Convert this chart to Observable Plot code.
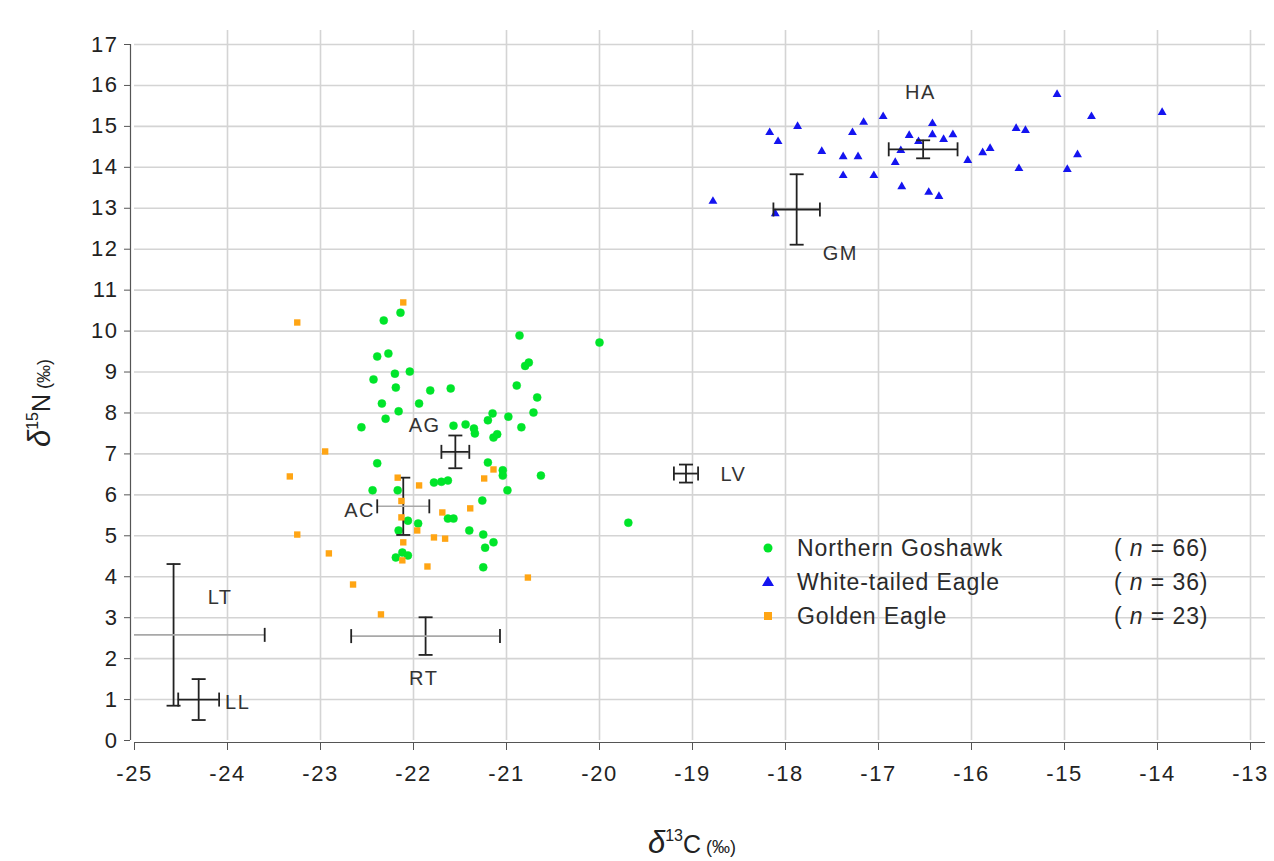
<!DOCTYPE html>
<html>
<head>
<meta charset="utf-8">
<script src="https://cdn.jsdelivr.net/npm/d3@7"></script>
<script src="https://cdn.jsdelivr.net/npm/@observablehq/plot@0.6"></script>
<style>
  body { margin: 0; background: #fff; font-family: "Liberation Sans", Arial, sans-serif; }
  #wrap { position: relative; width: 1274px; height: 861px; }
  #legend { position: absolute; left: 758px; top: 531px; font-size: 23px; letter-spacing: 0.9px; color: #2a2a2a; }
  #legend .row { position: relative; height: 34px; line-height: 34px; white-space: nowrap; }
  #legend .sym { position: absolute; left: 0; top: 0; width: 20px; height: 34px; }
  #legend .name { position: absolute; left: 39px; }
  #legend .n { position: absolute; left: 356px; }
</style>
</head>
<body>
<div id="wrap"></div>
<script>
// ---------- data ----------
const goshawkX = [-22.14,-22.32,-22.39,-22.27,-22.04,-22.20,-22.43,-22.19,-21.82,-21.60,-22.34,-21.94,-22.16,-22.30,-22.56,-21.57,-21.44,-21.35,-21.34,-21.20,-21.15,-20.98,-20.71,-20.67,-20.89,-20.76,-20.80,-20.86,-20.84,-21.14,-21.10,-21.20,-21.04,-21.04,-20.63,-22.39,-21.63,-21.70,-21.78,-20.99,-21.26,-21.63,-21.57,-21.40,-21.25,-21.14,-21.23,-21.25,-22.44,-22.17,-21.95,-22.16,-22.12,-22.19,-22.06,-20.00,-19.69,-22.06];
const goshawkY = [10.45,10.26,9.38,9.45,9.01,8.96,8.82,8.62,8.55,8.60,8.23,8.23,8.04,7.86,7.65,7.69,7.72,7.62,7.50,7.82,7.99,7.91,8.01,8.38,8.67,9.23,9.15,9.89,7.65,7.40,7.48,6.79,6.60,6.47,6.47,6.77,6.35,6.32,6.30,6.11,5.86,5.42,5.42,5.13,5.03,4.84,4.71,4.23,6.11,6.11,5.30,5.13,4.59,4.47,4.52,9.72,5.32,5.37];

const eagleWX = [-18.17,-18.08,-17.87,-17.61,-17.38,-17.22,-17.38,-17.05,-17.28,-17.16,-16.95,-16.82,-16.76,-16.75,-16.67,-16.57,-16.42,-16.42,-16.30,-16.20,-16.46,-16.35,-16.04,-15.88,-15.80,-15.52,-15.49,-18.11,-18.78,-15.08,-14.71,-15.42,-14.86,-14.97,-13.95];
const eagleWY = [14.85,14.63,15.00,14.39,14.26,14.26,13.80,13.80,14.85,15.10,15.24,14.12,14.41,13.53,14.78,14.63,15.07,14.80,14.68,14.80,13.39,13.29,14.17,14.36,14.46,14.95,13.97,12.87,13.17,15.78,15.24,14.90,14.31,13.95,15.34];

const goldenX = [-22.11,-23.25,-22.95,-23.33,-23.25,-22.91,-22.65,-22.35,-22.17,-21.94,-22.13,-22.13,-21.96,-21.78,-21.66,-22.11,-22.12,-21.85,-20.77,-21.14,-21.24,-21.39,-21.69];
const goldenY = [10.70,10.21,7.06,6.45,5.03,4.57,3.81,3.08,6.42,6.23,5.85,5.45,5.13,4.96,4.93,4.84,4.40,4.25,3.98,6.62,6.40,5.67,5.57];

// reference error bars (mean ± SD)
const ebLabel = ["HA","GM","AG","AC","LV","LT","LL","RT"];
const ebX     = [-16.52,-17.88,-21.55,-22.11,-19.07,-24.58,-24.31,-21.87];
const ebXerr  = [0.37,0.25,0.15,0.28,0.13,0.98,0.22,0.80];
const ebY     = [14.44,12.97,7.05,5.72,6.52,2.58,1.00,2.55];
const ebYerr  = [0.22,0.86,0.40,0.70,0.22,1.73,0.50,0.46];

// label anchor points (data units)
const labText = ["HA","GM","AG","AC","LV","LT","LL","RT"];
const labX = [-16.55,-17.41,-21.88,-22.58,-18.56,-24.08,-23.89,-21.89];
const labY = [15.83,11.90,7.69,5.62,6.50,3.49,0.93,1.51];

const xTicks = d3.range(-25, -12, 1);
const yTicks = d3.range(0, 18, 1);

const legendNames = ["Northern Goshawk","White-tailed Eagle","Golden Eagle"];
const legendN = [66, 36, 23];

// ---------- build tables ----------
const goshawk = goshawkX.map((x,i)=>({x, y: goshawkY[i]}));
const eagleW = eagleWX.map((x,i)=>({x, y: eagleWY[i]}));
const golden = goldenX.map((x,i)=>({x, y: goldenY[i]}));
const bars = ebLabel.map((l,i)=>({label:l, x:ebX[i], xe:ebXerr[i], y:ebY[i], ye:ebYerr[i]}));
const labels = labText.map((t,i)=>({t, x:labX[i], y:labY[i]}));
const greyH = new Set(["AC","LT","RT"]);

const capW = 7;
const hCap = {draw(ctx){ ctx.moveTo(-capW,0); ctx.lineTo(capW,0); }};
const vCap = {draw(ctx){ ctx.moveTo(0,-capW); ctx.lineTo(0,capW); }};

const vCaps = bars.flatMap(b=>[{x:b.x, y:b.y-b.ye},{x:b.x, y:b.y+b.ye}]);
const hCaps = bars.flatMap(b=>[{x:b.x-b.xe, y:b.y},{x:b.x+b.xe, y:b.y}]);

const gridColor = "#d4d4d4";
const ink = "#222";

const chart = Plot.plot({
  width: 1274,
  height: 861,
  marginLeft: 134,
  marginRight: 9,
  marginTop: 30,
  marginBottom: 121,
  x: {domain: [-25, -13], insetRight: 15},
  y: {domain: [0, 17], insetTop: 14},
  style: {fontFamily: "'Liberation Sans', Arial, sans-serif", fontSize: "22px", color: ink, background: "#fff"},
  marks: [
    Plot.gridX({ticks: xTicks.filter(t=>t>-25), stroke: gridColor, strokeOpacity: 1, strokeWidth: 1.6}),
    Plot.gridY({ticks: yTicks.filter(t=>t>0), stroke: gridColor, strokeOpacity: 1, strokeWidth: 1.6}),
    Plot.axisX({ticks: xTicks, tickFormat: d=>String(d), tickSize: 8, tickPadding: 15, dy: 2, label: null, stroke: "#555", fontSize: 22}),
    Plot.axisY({ticks: yTicks, tickFormat: d=>String(d), tickSize: 6, tickPadding: 6, dx: -4, label: null, stroke: "#555", fontSize: 22}),
    Plot.ruleY([0], {dy: 2, stroke: "#555", strokeWidth: 1.2}),
    Plot.ruleX([-25], {dx: -4, y1: 0, y2: 17, stroke: "#555", strokeWidth: 1.2}),
    Plot.dot(goshawk, {x:"x", y:"y", r: 4, symbol: "circle", fill: "#00e52a", stroke: "#00e52a", strokeWidth: 0.5}),
    Plot.dot(eagleW, {x:"x", y:"y", r: 3.3, symbol: "triangle", fill: "#1414f0"}),
    // error bars
    Plot.ruleX(bars, {x:"x", y1: d=>d.y-d.ye, y2: d=>d.y+d.ye, stroke: ink, strokeWidth: 1.8}),
    Plot.ruleY(bars, {y:"y", x1: d=>d.x-d.xe, x2: d=>d.x+d.xe, stroke: d=>greyH.has(d.label)?"#a8a8a8":ink, strokeWidth: d=>greyH.has(d.label)?1.6:1.8, clip: true}),
    Plot.dot(vCaps, {x:"x", y:"y", symbol: hCap, r: 1, stroke: ink, strokeWidth: 1.8, fill: "none"}),
    Plot.dot(hCaps, {x:"x", y:"y", symbol: vCap, r: 1, stroke: ink, strokeWidth: 1.8, fill: "none", clip: true}),
    Plot.dot(golden, {x:"x", y:"y", r: 3.6, symbol: "square", fill: "#ffa514"}),
    Plot.text(labels, {x:"x", y:"y", text:"t", fontSize: 20, fill: "#333"})
  ]
});

const svg = d3.select(chart);
// wider tick and label lettering as in the reference
svg.selectAll("g[aria-label='x-axis tick label'] text, g[aria-label='y-axis tick label'] text").style("letter-spacing", "1.5px");
svg.selectAll("g[aria-label='text'] text").style("letter-spacing", "1.5px");

// axis titles
const yt = svg.append("text")
  .attr("transform", "translate(50,403) rotate(-90)")
  .attr("text-anchor", "middle")
  .attr("fill", ink)
  .style("font-family", "'Liberation Sans', Arial, sans-serif");
yt.append("tspan").text("δ").style("font-style","italic").style("font-size","31px");
yt.append("tspan").text("15").style("font-size","16px").attr("dy", -12);
yt.append("tspan").text("N").style("font-size","25px").attr("dy", 12);
yt.append("tspan").text(" (‰)").style("font-size","18px");

const xt = svg.append("text")
  .attr("transform", "translate(692,853)")
  .attr("text-anchor", "middle")
  .attr("fill", ink)
  .style("font-family", "'Liberation Sans', Arial, sans-serif");
xt.append("tspan").text("δ").style("font-style","italic").style("font-size","31px");
xt.append("tspan").text("13").style("font-size","16px").attr("dy", -12);
xt.append("tspan").text("C").style("font-size","25px").attr("dy", 12);
xt.append("tspan").text(" (‰)").style("font-size","18px");

const wrap = document.getElementById("wrap");
wrap.appendChild(chart);

// legend
const legend = document.createElement("div");
legend.id = "legend";
const symSvg = [
  '<svg class="sym" viewBox="0 0 20 34"><circle cx="10" cy="17" r="4.5" fill="#00e52a"/></svg>',
  '<svg class="sym" viewBox="0 0 20 34"><path d="M10 11 L16 21 L4 21 Z" fill="#1414f0"/></svg>',
  '<svg class="sym" viewBox="0 0 20 34"><rect x="6" y="13" width="8" height="8" fill="#ffa514"/></svg>'
];
legendNames.forEach((name, i) => {
  const row = document.createElement("div");
  row.className = "row";
  row.innerHTML = symSvg[i] + `<span class="name">${name}</span><span class="n">( <i>n</i> = ${legendN[i]})</span>`;
  legend.appendChild(row);
});
wrap.appendChild(legend);
</script>
</body>
</html>
